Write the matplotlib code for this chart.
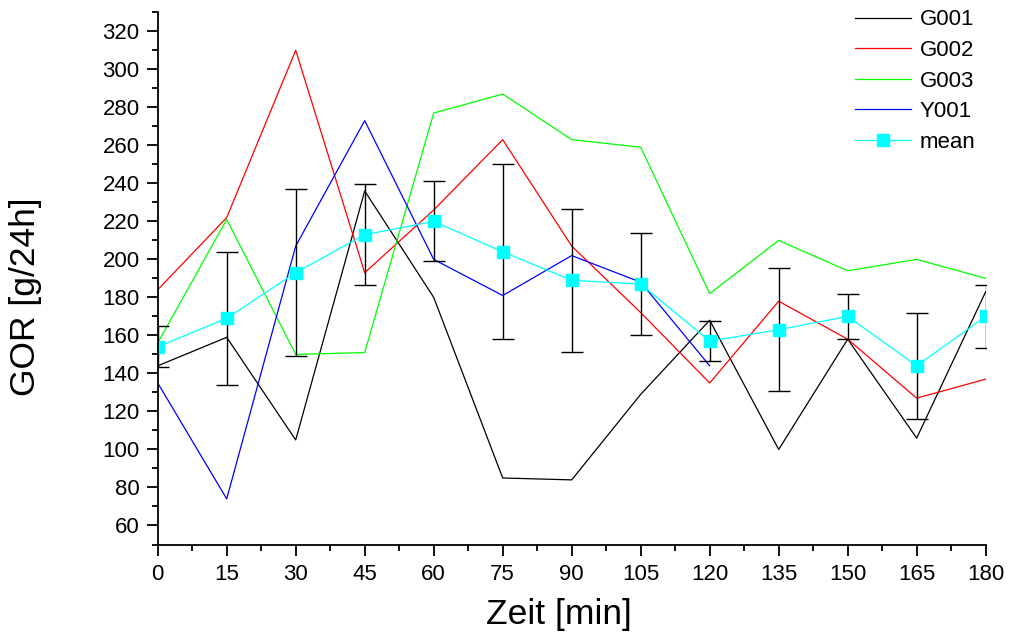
import numpy as np
import matplotlib
matplotlib.use("Agg")
import matplotlib.pyplot as plt
from matplotlib.ticker import MultipleLocator

plt.rcParams['font.family'] = ['Liberation Sans', 'DejaVu Sans']

# Daten
zeit = [0, 15, 30, 45, 60, 75, 90, 105, 120, 135, 150, 165, 180]
g001 = [144, 159, 105, 236, 180, 85, 84, 129, 168, 100, 158, 106, 183]
g002 = [184, 222, 310, 193, 226, 263, 207, 172, 135, 178, 158, 127, 137]
g003 = [156, 221, 150, 151, 277, 287, 263, 259, 182, 210, 194, 200, 190]
y001 = [135, 74, 207, 273, 200, 181, 202, 188, 144, np.nan, np.nan, np.nan, np.nan]
mean = [154, 169, 193, 213, 220, 204, 189, 187, 157, 163, 170, 144, 170]
err = [10.7, 35, 44, 26.5, 21, 46, 37.6, 27, 10.6, 32.5, 12, 28, 16.5]

fig = plt.figure(figsize=(10.09, 6.37), dpi=100)
ax = fig.add_axes([0.1563, 0.1452, 0.8206, 0.8355])

lw = 0.9
ax.plot(zeit, g001, color='black', lw=lw, label='G001')
ax.plot(zeit, g002, color='red', lw=lw, label='G002')
ax.plot(zeit, g003, color='#00ff00', lw=lw, label='G003')
ax.plot(zeit, y001, color='blue', lw=lw, label='Y001')
ax.errorbar(zeit, mean, yerr=err, fmt='none', ecolor='black', elinewidth=1.0,
            capsize=8, capthick=1.0)
ax.plot(zeit, mean, color='cyan', lw=lw, marker='s', markersize=9,
        markeredgecolor='cyan', label='mean')

ax.set_xlim(0, 180)
ax.set_ylim(50, 330)
ax.xaxis.set_major_locator(MultipleLocator(15))
ax.xaxis.set_minor_locator(MultipleLocator(7.5))
ax.set_yticks(range(60, 330, 20))
ax.yaxis.set_minor_locator(MultipleLocator(10))

for s in ['top', 'right']:
    ax.spines[s].set_visible(False)
for s in ['left', 'bottom']:
    ax.spines[s].set_linewidth(1.3)

ax.tick_params(which='major', direction='out', length=8, width=1.3, labelsize=16)
ax.tick_params(axis='x', which='major', pad=6)
ax.tick_params(axis='y', which='major', pad=5)
ax.tick_params(which='minor', direction='out', length=4.5, width=1.3)

ax.set_xlabel('Zeit [min]', fontsize=25.5)
ax.set_ylabel('GOR [g/24h]', fontsize=25.5)
ax.xaxis.set_label_coords(0.485, -0.1)
ax.yaxis.set_label_coords(-0.14, 0.465)

ax.legend(loc='upper right', bbox_to_anchor=(1.012, 1.043), frameon=False, fontsize=16,
          handlelength=2.5, handletextpad=0.4, labelspacing=0.43)

fig.savefig('out.png', dpi=100)
